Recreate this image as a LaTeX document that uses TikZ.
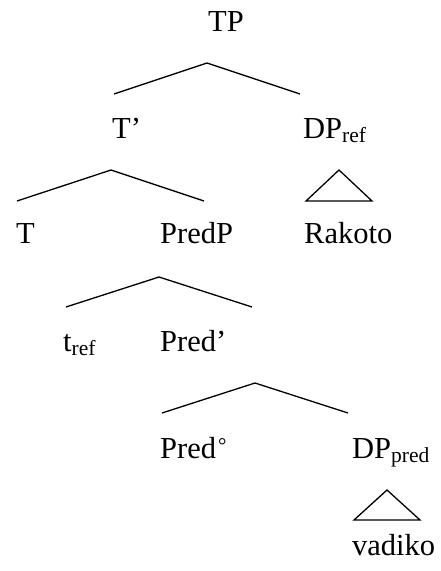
\documentclass[tikz,border=0pt]{standalone}
\usepackage{fontspec}
\setmainfont{Liberation Serif}
\newcommand\lowsub[1]{\raisebox{-4.5pt}{\fontsize{21.5}{24}\selectfont #1}}
\newcommand\highsup[1]{\raisebox{6pt}{\fontsize{21}{24}\selectfont #1}}
\begin{document}
\begin{tikzpicture}[x=1pt,y=-1pt,
  lbl/.style={anchor=base west, inner sep=0pt, font=\fontsize{30.5}{36}\selectfont},
  branch/.style={line width=1.3pt}]
\useasboundingbox (0,0) rectangle (440,571);
% labels
\node[lbl] (tp) at (208,31.5) {TP};
\node[lbl] (tbar) at (112,138) {T’};
\node[lbl] (dpref) at (303,138) {DP\lowsub{ref}};
\node[lbl] (t) at (16,243) {T};
\node[lbl] (predp) at (160,243) {PredP};
\node[lbl] (rakoto) at (304,243) {Rakoto};
\node[lbl] (tref) at (63,351) {t\lowsub{ref}};
\node[lbl] (predbar) at (160,351) {Pred’};
\node[lbl] (predo) at (160,458) {Pred\kern2pt\highsup{°}};
\node[lbl] (dppred) at (352,458) {DP\lowsub{pred}};
\node[lbl] (vadiko) at (352,555) {vadiko};
% branch points
\coordinate (a1) at (207,63);  \coordinate (a1l) at (114,94);  \coordinate (a1r) at (300,94);
\coordinate (a2) at (111,170); \coordinate (a2l) at (17,201);  \coordinate (a2r) at (204,201);
\coordinate (a3) at (339,170); \coordinate (a3l) at (306,201); \coordinate (a3r) at (372,201);
\coordinate (a4) at (159,277); \coordinate (a4l) at (66,307);  \coordinate (a4r) at (252,307);
\coordinate (a5) at (255,383); \coordinate (a5l) at (162,413); \coordinate (a5r) at (348,413);
\coordinate (a6) at (387,490); \coordinate (a6l) at (354,520); \coordinate (a6r) at (420,520);
% branches
\draw[branch] (a1l) -- (a1) -- (a1r);
\draw[branch] (a2l) -- (a2) -- (a2r);
\draw[branch] (a3) -- (a3l) -- (a3r) -- cycle;
\draw[branch] (a4l) -- (a4) -- (a4r);
\draw[branch] (a5l) -- (a5) -- (a5r);
\draw[branch] (a6) -- (a6l) -- (a6r) -- cycle;
\end{tikzpicture}
\end{document}
